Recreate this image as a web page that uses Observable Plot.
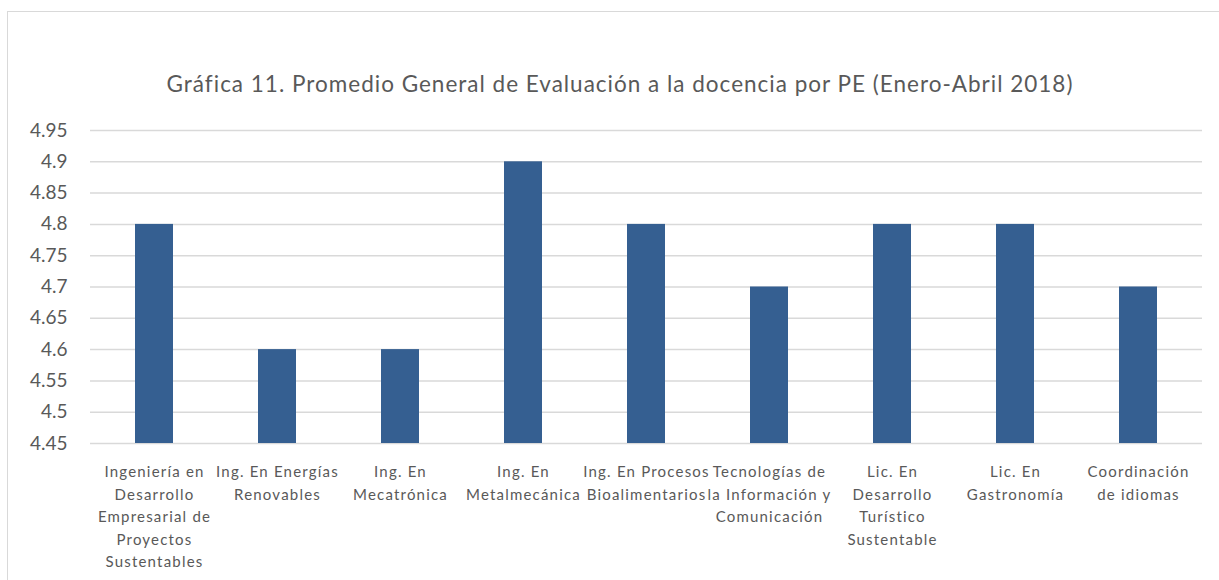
<!DOCTYPE html>
<html>
<head>
<meta charset="utf-8">
<script src="https://cdn.jsdelivr.net/npm/d3@7"></script>
<script src="https://cdn.jsdelivr.net/npm/@observablehq/plot@0.6"></script>
<style>
  html, body { margin: 0; padding: 0; background: #fff; }
  #wrap { position: relative; width: 1219px; height: 580px; overflow: hidden; font-family: Lato, "Open Sans", sans-serif; }
  #frame { position: absolute; left: 7px; top: 11px; width: 1220px; height: 600px; border: 1.5px solid #d9d9d9; box-sizing: border-box; }
  #title { position: absolute; left: 0; width: 1240px; top: 70px; text-align: center; font-size: 22.5px; color: #595959; letter-spacing: 1px; white-space: nowrap; }
  #chart { position: absolute; left: 0; top: 0; }
  #chart g[aria-label="x-axis tick label"] text { letter-spacing: 1.2px; }
</style>
</head>
<body>
<div id="wrap">
  <div id="frame"></div>
  <div id="title">Gráfica 11. Promedio General de Evaluación a la docencia por PE (Enero-Abril 2018)</div>
  <div id="chart"></div>
</div>
<script>
const categories = [
  "Ingeniería en\nDesarrollo\nEmpresarial de\nProyectos\nSustentables",
  "Ing. En Energías\nRenovables",
  "Ing. En\nMecatrónica",
  "Ing. En\nMetalmecánica",
  "Ing. En Procesos\nBioalimentarios",
  "Tecnologías de\nla Información y\nComunicación",
  "Lic. En\nDesarrollo\nTurístico\nSustentable",
  "Lic. En\nGastronomía",
  "Coordinación\nde idiomas"
];
const values = [4.8, 4.6, 4.6, 4.9, 4.8, 4.7, 4.8, 4.8, 4.7];
const yTicks = [4.45, 4.5, 4.55, 4.6, 4.65, 4.7, 4.75, 4.8, 4.85, 4.9, 4.95];
const yMin = 4.45;
const yMax = 4.95;

const data = categories.map((c, i) => ({category: c, value: values[i]}));

const chart = Plot.plot({
  width: 1219,
  height: 580,
  marginLeft: 90,
  marginRight: 17,
  marginTop: 130,
  marginBottom: 137,
  style: {background: "transparent", fontFamily: "Lato, 'Open Sans', sans-serif", color: "#595959"},
  x: {domain: categories, paddingInner: 0.69, paddingOuter: 0.345, label: null},
  y: {domain: [yMin, yMax], label: null},
  marks: [
    Plot.ruleY(yTicks, {stroke: "#d9d9d9", strokeWidth: 1.5}),
    Plot.barY(data, {x: "category", y1: () => yMin, y2: "value", fill: "#355F91"}),
    Plot.axisY({ticks: yTicks, tickFormat: d => String(d), tickSize: 0, tickPadding: 23, fontSize: 19, fill: "#595959", label: null}),
    Plot.axisX({tickSize: 0, tickPadding: 18, fontSize: 15, lineHeight: 1.5, fill: "#595959", label: null})
  ]
});
document.getElementById("chart").appendChild(chart);
</script>
</body>
</html>
